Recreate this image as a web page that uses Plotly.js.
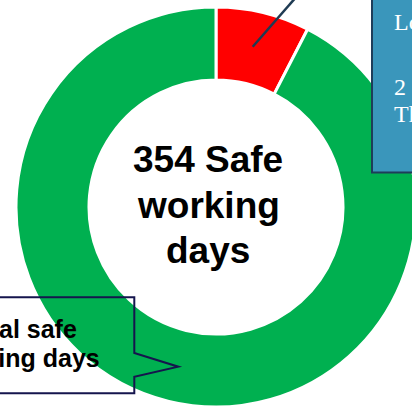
<!DOCTYPE html>
<html>
<head>
<meta charset="utf-8">
<script src="https://cdn.plot.ly/plotly-3.0.1.min.js"></script>
<style>
  html, body { margin: 0; padding: 0; overflow: hidden; background: #ffffff; }
  #chart { width: 432px; height: 420px; }
</style>
</head>
<body>
<div id="chart"></div>
<script>
// ---- data ----
const sliceLabels = ["Days with incidents", "Safe working days"];
const sliceValues = [29, 354];
const sliceColors = ["#FF0000", "#00B050"];
const centerLines = ["354 Safe", "working", "days"];
const calloutLines = ["Total safe", "working days"];
const boxLines = ["Lost time injuries", "2 LTIs recorded", "This year"];

// ---- layout helpers (pixel -> paper) ----
const W = 432, H = 420;
const px = x => x / W;
const py = y => 1 - y / H;

const trace = {
  type: "pie",
  labels: sliceLabels,
  values: sliceValues,
  sort: false,
  direction: "clockwise",
  rotation: 0,
  hole: 0.635,
  textinfo: "none",
  hoverinfo: "none",
  marker: { colors: sliceColors, line: { color: "#ffffff", width: 3 } },
  domain: { x: [px(16), px(416)], y: [py(407), py(7)] },
  showlegend: false
};

const sansFont = "Liberation Sans, Arial, sans-serif";
const serifFont = "Liberation Serif, Times New Roman, serif";

const annotations = [];
const centerBaselines = [172, 218, 263];
centerLines.forEach((t, i) => {
  annotations.push({
    text: "<b>" + t + "</b>", xref: "paper", yref: "paper",
    x: px(208), y: py(centerBaselines[i] - 0.3465 * 37),
    xanchor: "center", yanchor: "middle", showarrow: false,
    font: { family: sansFont, size: 37, color: "#000000" }
  });
});
const calloutBaselines = [337.7, 366.7];
const calloutCenters = [19.5, 19];
calloutLines.forEach((t, i) => {
  annotations.push({
    text: "<b>" + t + "</b>", xref: "paper", yref: "paper",
    x: px(calloutCenters[i]), y: py(calloutBaselines[i] - 0.3465 * 25),
    xanchor: "center", yanchor: "middle", showarrow: false,
    font: { family: sansFont, size: 25, color: "#000000" }
  });
});
const boxBaselines = [30, 95, 122.3];
boxLines.forEach((t, i) => {
  annotations.push({
    text: t, xref: "paper", yref: "paper",
    x: px(392.3), y: py(boxBaselines[i] - 0.3375 * 24),
    xanchor: "left", yanchor: "middle", showarrow: false,
    font: { family: serifFont, size: 24, color: "#ffffff" }
  });
});

const calloutPath = [
  [-5, 297.3], [134.3, 297.3], [134.3, 353], [178.3, 366.7],
  [134.3, 376.7], [134.3, 393.3], [-5, 393.3]
].map((p, i) => (i === 0 ? "M " : "L ") + px(p[0]) + " " + py(p[1])).join(" ") + " Z";

const shapes = [
  {
    type: "rect", xref: "paper", yref: "paper",
    x0: px(372), x1: px(445), y0: py(172.5), y1: py(-10),
    fillcolor: "#3A96BB", line: { color: "#1E3D59", width: 2 }, layer: "above"
  },
  {
    type: "line", xref: "paper", yref: "paper",
    x0: px(252.7), y0: py(46.7), x1: px(297.5), y1: py(-4.5),
    line: { color: "#1F3B53", width: 2.5 }, layer: "above"
  },
  {
    type: "path", xref: "paper", yref: "paper", path: calloutPath,
    fillcolor: "rgba(0,0,0,0)", line: { color: "#15154D", width: 2 }, layer: "above"
  }
];

const layout = {
  width: W, height: H,
  margin: { l: 0, r: 0, t: 0, b: 0, pad: 0 },
  paper_bgcolor: "#ffffff",
  plot_bgcolor: "#ffffff",
  showlegend: false,
  annotations: annotations,
  shapes: shapes
};

Plotly.newPlot("chart", [trace], layout, { staticPlot: true, displayModeBar: false });
</script>
</body>
</html>
